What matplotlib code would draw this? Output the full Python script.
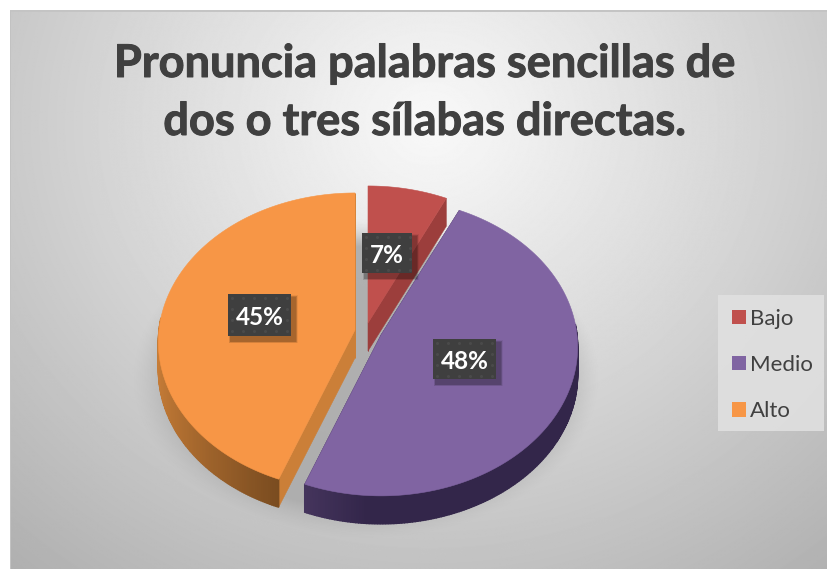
import numpy as np
import matplotlib
matplotlib.use("Agg")
import matplotlib.pyplot as plt
import matplotlib.patheffects as pe
from matplotlib.patches import Polygon, Rectangle, Patch

# ---- data ----
categories = ["Bajo", "Medio", "Alto"]
values = [7, 48, 45]
title_lines = ["Pronuncia palabras sencillas de", "dos o tres sílabas directas."]

# ---- style ----
top_colors = ["#c0504d", "#8064a2", "#f79646"]
face_colors = ["#9c3e3c", "#35264a", "#cb7f38"]
rim_from = ["#9c3e3c", "#33264a", "#c97e38"]
rim_to = ["#9c3e3c", "#44345c", "#7a4c20"]
apex = [(368, 323), (381, 335), (355, 330)]      # exploded slice origins in the picture
label_boxes = [(362, 233, 412, 273), (433, 339, 496, 379), (228, 294, 291, 336)]
A, B, K = 196.0, 148.0, 0.08   # ellipse radii, perspective
DEPTH = 28

W, H = 828, 569
fig = plt.figure(figsize=(W / 100, H / 100), dpi=100, facecolor="white")
ax = fig.add_axes([0, 0, 1, 1])
ax.set_xlim(0, W)
ax.set_ylim(H, 0)
ax.axis("off")

# background: radial grey gradient
xx, yy = np.meshgrid(np.arange(W) + .5, np.arange(H) + .5)
r = np.hypot((xx - 425) / 700, (yy - 115) / 640)
grey = np.clip(0.975 - 0.31 * np.clip(r, 0, 1) ** 1.05, 0, 1)
ax.imshow(grey, cmap="gray", vmin=0, vmax=1, extent=(10, W, H, 11), zorder=0,
          aspect="auto", interpolation="bilinear")
ax.add_patch(Rectangle((10, 10), W - 10, 2, color="#c4c4c4", lw=0, zorder=1))
ax.add_patch(Rectangle((10, 11), 1.5, H - 11, color="#c2c2c2", lw=0, zorder=1))

# soft floor shadow
d = np.hypot((xx - 366) / 233, (yy - 378) / 160)
alpha = np.clip((1.0 - d) / 0.18, 0, 1) ** 1.3
rgba = np.zeros((H, W, 4))
rgba[..., :3] = 0.68
rgba[..., 3] = alpha * 0.95 * np.clip((yy - 200) / 40, 0, 1)
ax.imshow(rgba, extent=(0, W, H, 0), zorder=1, aspect="auto")
ax.set_xlim(0, W)
ax.set_ylim(H, 0)


def view_angle(th):
    """slight angular distortion from the 3-D viewpoint"""
    return th + np.radians(1.6) * (1 - np.cos(th))


def project(th, origin):
    t = view_angle(th)
    u, v = np.sin(t), np.cos(t)
    w = 1 / (1 + K * v)
    return origin[0] + A * u * w, origin[1] - B * v * w


def hex2rgb(c):
    return np.array(matplotlib.colors.to_rgb(c))


cum = np.concatenate([[0], np.cumsum(values)]) / np.sum(values) * 2 * np.pi


def draw_slice(i, z):
    t0, t1 = cum[i], cum[i + 1]
    th = np.linspace(t0, t1, 240)
    px, py = project(th, apex[i])
    o = apex[i]
    # cut faces
    for pxe, pye in ((px[0], py[0]), (px[-1], py[-1])):
        quad = [(o[0], o[1]), (pxe, pye), (pxe, pye + DEPTH), (o[0], o[1] + DEPTH)]
        ax.add_patch(Polygon(quad, closed=True, fc=face_colors[i], ec=face_colors[i],
                             lw=.4, zorder=z))
    # rim with shading
    c0, c1 = hex2rgb(rim_from[i]), hex2rgb(rim_to[i])
    order = [k for k in range(len(th) - 1)
             if np.cos(view_angle(th[k])) < 0.08]
    n = max(len(order) - 1, 1)
    for j, k in enumerate(order):
        # purple: lighter toward lower-left; orange: darker toward the front
        f = (j / n)
        if i == 2:
            f = 1 - f
            f = f ** 1.6
        elif i == 1:
            f = max(0, (j / n - .85) / .15)
        col = c0 * (1 - f) + c1 * f
        quad = [(px[k], py[k]), (px[k + 1], py[k + 1]),
                (px[k + 1], py[k + 1] + DEPTH), (px[k], py[k] + DEPTH)]
        ax.add_patch(Polygon(quad, closed=True, fc=col, ec=col, lw=1.0, zorder=z + .1))
    # top
    poly = np.column_stack([np.r_[o[0], px], np.r_[o[1], py]])
    ax.add_patch(Polygon(poly, closed=True, fc=top_colors[i], ec=top_colors[i],
                         lw=.4, zorder=z + .2))


draw_slice(0, 2)
draw_slice(2, 3)
draw_slice(1, 4)

# data labels
pct = [f"{v}%" for v in values]
for (x0, y0, x1, y1), s in zip(label_boxes, pct):
    # soft shadow
    for g, a in ((6, .06), (5, .08), (4, .1), (3, .12)):
        ax.add_patch(Rectangle((x0 + 4 - g / 2, y0 + 4 - g / 2), x1 - x0 + g, y1 - y0 + g,
                               fc="black", lw=0, alpha=a, zorder=5))
    ax.add_patch(Rectangle((x0, y0), x1 - x0, y1 - y0, fc="#3f3f3f", lw=0, zorder=5.2))
    gx, gy = np.meshgrid(np.arange(x0 + 4, x1 - 1, 11.0), np.arange(y0 + 4, y1 - 1, 11.0))
    ax.scatter(gx.ravel(), gy.ravel(), s=5, c="#4a4a4a", lw=0, zorder=5.3)
    ax.text((x0 + x1) / 2, (y0 + y1) / 2 + 2, s, color="white", fontsize=17.5, fontweight="bold",
            family="Lato", ha="center", va="center", zorder=6)

# title
for s, y in zip(title_lines, (64, 122)):
    t = ax.text(425, y, s, color="#404040", fontsize=32.5, fontweight="bold", family="Lato",
                ha="center", va="center", zorder=6)
    t.set_path_effects([pe.withStroke(linewidth=.7, foreground="#404040")])

# legend
ax.add_patch(Rectangle((718, 295), 106, 136, fc="#e0e0e0", ec="none", alpha=.9, zorder=5.5))
handles = [Patch(fc=c, ec=c, lw=0, label=n) for c, n in zip(top_colors, categories)]
leg = ax.legend(handles=handles, loc="upper left", bbox_to_anchor=(718 / W, 1 - 295 / H),
                borderaxespad=0, frameon=False, handlelength=.63, handleheight=.63, handletextpad=.2,
                labelspacing=1.18, borderpad=.62, prop={"family": "Lato", "size": 16}, labelcolor="#404040")
leg.set_zorder(6)

fig.savefig("out.png", dpi=100, facecolor="white")
